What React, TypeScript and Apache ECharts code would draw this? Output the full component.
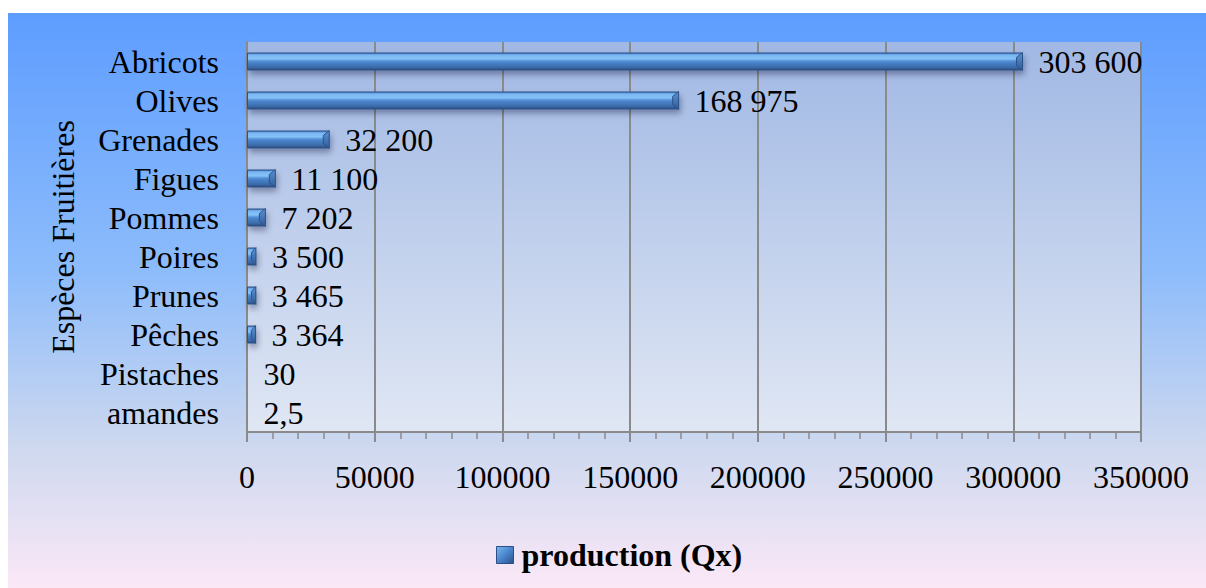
import React, { useEffect, useRef } from "react";
import * as echarts from "echarts";

const categories = ["Abricots", "Olives", "Grenades", "Figues", "Pommes", "Poires", "Prunes", "Pêches", "Pistaches", "amandes"];
const values = [303600, 168975, 32200, 11100, 7202, 3500, 3465, 3364, 30, 2.5];
const valueLabels = ["303 600", "168 975", "32 200", "11 100", "7 202", "3 500", "3 465", "3 364", "30", "2,5"];
const seriesName = "production (Qx)";
const axisTitle = "Espèces Fruitières";

const FONT = "Liberation Serif";
const FS = 32;

export default function App() {
  const ref = useRef<HTMLDivElement>(null);
  useEffect(() => {
    if (!ref.current) return;
    const chart = echarts.init(ref.current, null, { renderer: "svg" });
    const barGrad = new echarts.graphic.LinearGradient(0, 0, 0, 1, [
      { offset: 0, color: "#4678c0" },
      { offset: 0.12, color: "#79b7f3" },
      { offset: 0.35, color: "#86c2f8" },
      { offset: 0.45, color: "#5c98dc" },
      { offset: 0.55, color: "#4a84cc" },
      { offset: 0.85, color: "#3b69a8" },
      { offset: 1, color: "#2a4a7a" },
    ]);
    const cats = [...categories].reverse();
    const vals = [...values].reverse();
    const labs = [...valueLabels].reverse();
    const BW = 18;
    chart.setOption({
      animation: false,
      backgroundColor: new echarts.graphic.LinearGradient(0, 0, 0, 1, [
        { offset: 0, color: "#5e9dff" },
        { offset: 0.45, color: "#8dbcfb" },
        { offset: 0.75, color: "#cdd8ef" },
        { offset: 1, color: "#fbe8f7" },
      ]),
      textStyle: { fontFamily: FONT },
      grid: {
        left: 239,
        top: 29,
        width: 894,
        height: 390,
        show: true,
        borderWidth: 0,
        backgroundColor: new echarts.graphic.LinearGradient(0, 0, 0, 1, [
          { offset: 0, color: "#a0b8e4" },
          { offset: 1, color: "#e0e7f4" },
        ]),
      },
      legend: {
        left: 483,
        top: 521,
        itemWidth: 17,
        itemHeight: 17,
        icon: "rect",
        textStyle: { fontFamily: FONT, fontSize: FS, fontWeight: "bold", color: "#000", padding: [0, 0, 0, 3] },
        data: [
          {
            name: seriesName,
            itemStyle: {
              color: new echarts.graphic.LinearGradient(0, 0, 1, 1, [
                { offset: 0, color: "#7db8f2" },
                { offset: 0.5, color: "#4a85cc" },
                { offset: 1, color: "#2b5088" },
              ]),
              borderColor: "#2b5088",
              borderWidth: 1,
            },
          },
        ],
      },
      xAxis: {
        type: "value",
        min: 0,
        max: 350000,
        interval: 50000,
        axisLine: { show: true, lineStyle: { color: "#8a8a8a", width: 2 } },
        axisTick: { show: true, length: 10, lineStyle: { color: "#8a8a8a", width: 2 } },
        minorTick: { show: true, splitNumber: 5, length: 7, lineStyle: { color: "#8a8a8a", width: 1.5 } },
        splitLine: { show: true, lineStyle: { color: "#8a8a8a", width: 2 } },
        axisLabel: { color: "#000", fontFamily: FONT, fontSize: FS, margin: 29, formatter: (v: number) => String(v) },
      },
      yAxis: {
        type: "category",
        data: cats,
        name: axisTitle,
        nameLocation: "middle",
        nameGap: 168,
        nameRotate: 90,
        nameTextStyle: { color: "#000", fontFamily: FONT, fontSize: FS },
        axisLine: { show: true, lineStyle: { color: "#8a8a8a", width: 2 } },
        axisTick: { show: false },
        axisLabel: { color: "#000", fontFamily: FONT, fontSize: FS, margin: 28, interval: 0 },
      },
      series: [
        {
          name: seriesName,
          type: "bar",
          barWidth: BW,
          data: vals.map((v, i) => ({ value: v, label: { formatter: labs[i] } })),
          itemStyle: {
            color: barGrad,
            borderColor: "#2d5288",
            borderWidth: 1,
            shadowColor: "rgba(0,0,40,0.35)",
            shadowBlur: 6,
            shadowOffsetX: 2,
            shadowOffsetY: 4,
          },
          label: {
            show: true,
            position: "right",
            distance: 16,
            color: "#000",
            fontFamily: FONT,
            fontSize: FS,
          },
        },
        {
          name: "bevel",
          type: "custom",
          silent: true,
          z: 3,
          data: vals.map((v, i) => [v, i]),
          encode: { x: 0, y: 1 },
          renderItem: (params: any, api: any) => {
            const v = api.value(0);
            const idx = api.value(1);
            const p0 = api.coord([0, idx]);
            const p1 = api.coord([v, idx]);
            const w = p1[0] - p0[0];
            if (w < 2) return { type: "group", children: [] };
            const x1 = p1[0];
            const yt = p1[1] - BW / 2;
            const yb = p1[1] + BW / 2;
            const b = Math.min(6, w / 2);
            return {
              type: "group",
              children: [
                {
                  type: "polygon",
                  shape: { points: [[x1 - b, yt + 5], [x1, yt], [x1, yb], [x1 - b, yb - 5]] },
                  style: {
                    fill: new echarts.graphic.LinearGradient(0, 0, 0, 1, [
                      { offset: 0, color: "#5b93d6" },
                      { offset: 1, color: "#2f5a94" },
                    ]),
                    stroke: "#2d5288",
                    lineWidth: 1,
                  },
                },
              ],
            };
          },
        },
      ],
    });
    return () => chart.dispose();
  }, []);
  return (
    <div
      ref={ref}
      style={{ position: "absolute", left: 8, top: 13, width: 1198, height: 575 }}
    />
  );
}
